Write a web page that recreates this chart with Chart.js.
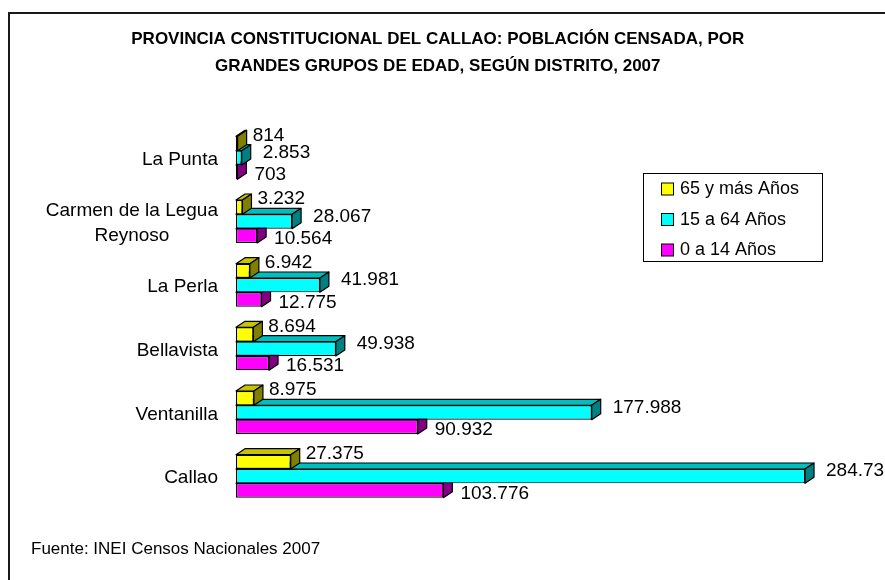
<!DOCTYPE html>
<html><head><meta charset="utf-8">
<script src="https://cdn.jsdelivr.net/npm/chart.js@4.4.1/dist/chart.umd.min.js"></script>
<style>html,body{margin:0;padding:0;background:#fff}#wrap{width:885px;height:580px;position:relative;overflow:hidden}</style>
</head><body><div id="wrap"><canvas id="c" width="885" height="580"></canvas></div>
<script>
// ---- data ----
const categories = ['La Punta', ['Carmen de la Legua', 'Reynoso'], 'La Perla', 'Bellavista', 'Ventanilla', 'Callao'];
const seriesNames = ['65 y más Años', '15 a 64 Años', '0 a 14 Años'];
const age65plus = [814, 3232, 6942, 8694, 8975, 27375];
const age15to64 = [2853, 28067, 41981, 49938, 177988, 284730];
const age0to14 = [703, 10564, 12775, 16531, 90932, 103776];
const titleLines = ['PROVINCIA CONSTITUCIONAL DEL CALLAO: POBLACIÓN CENSADA, POR', 'GRANDES GRUPOS DE EDAD, SEGÚN DISTRITO, 2007'];
const sourceText = 'Fuente: INEI Censos Nacionales 2007';

// ---- style ----
const FONT = '"Liberation Sans", Arial, sans-serif';
const frontColors = ['#FFFF00', '#00FFFF', '#FF00FF'];
const topColors = ['#C4C400', '#00BEBE', '#BE00BE'];
const sideColors = ['#808000', '#008080', '#800080'];
const DX = 9, DY = 6;
const labelOffX = [6, 12, 8];
const labelOffY = [-8, -5, 3];

function fmt(v) {
  return String(v).replace(/\B(?=(\d{3})+(?!\d))/g, '.');
}

function poly(ctx, pts, fill) {
  ctx.beginPath();
  ctx.moveTo(pts[0][0], pts[0][1]);
  for (let i = 1; i < pts.length; i++) ctx.lineTo(pts[i][0], pts[i][1]);
  ctx.closePath();
  ctx.fillStyle = fill;
  ctx.fill();
  ctx.stroke();
}

const threeD = {
  id: 'threeD',
  beforeDatasetsDraw(chart) {
    const ctx = chart.ctx;
    ctx.save();
    ctx.strokeStyle = '#000';
    ctx.lineWidth = 1.2;
    ctx.lineJoin = 'round';
    for (let di = chart.data.datasets.length - 1; di >= 0; di--) {
      const meta = chart.getDatasetMeta(di);
      meta.data.forEach(bar => {
        const p = bar.getProps(['x', 'y', 'base', 'height'], true);
        const t = p.y - p.height / 2, b = p.y + p.height / 2;
        const x0 = p.base, x1 = p.x;
        poly(ctx, [[x0, t], [x0 + DX, t - DY], [x1 + DX, t - DY], [x1, t]], topColors[di]);
        poly(ctx, [[x1, t], [x1 + DX, t - DY], [x1 + DX, b - DY], [x1, b]], sideColors[di]);
      });
    }
    ctx.restore();
  },
  afterDatasetsDraw(chart) {
    const ctx = chart.ctx;
    ctx.save();
    ctx.fillStyle = '#000';
    ctx.font = '19px ' + FONT;
    ctx.textAlign = 'left';
    ctx.textBaseline = 'middle';
    chart.data.datasets.forEach((ds, di) => {
      const meta = chart.getDatasetMeta(di);
      meta.data.forEach((bar, i) => {
        const p = bar.getProps(['x', 'y'], true);
        ctx.fillText(fmt(ds.data[i]), p.x + DX + labelOffX[di], p.y + labelOffY[di]);
      });
    });
    ctx.restore();
  },
  afterDraw(chart) {
    const ctx = chart.ctx;
    ctx.save();
    // outer frame
    ctx.strokeStyle = '#1a1a1a';
    ctx.lineWidth = 2;
    ctx.beginPath();
    ctx.moveTo(9, 600);
    ctx.lineTo(9, 13);
    ctx.lineTo(900, 13);
    ctx.stroke();

    // category labels
    const ys = chart.scales.y;
    ctx.fillStyle = '#000';
    ctx.font = '19px ' + FONT;
    ctx.textBaseline = 'middle';
    ctx.textAlign = 'center';
    const rightEdge = 218;
    const lh = 25;
    categories.forEach((lab, i) => {
      const lines = Array.isArray(lab) ? lab : [lab];
      const w = Math.max(...lines.map(l => ctx.measureText(l).width));
      const cx = rightEdge - w / 2;
      const yc = ys.getPixelForTick(i) + 2;
      const y0 = yc - (lines.length - 1) * lh / 2;
      lines.forEach((l, k) => ctx.fillText(l, cx, y0 + k * lh));
    });

    // legend
    ctx.lineWidth = 1;
    ctx.strokeStyle = '#000';
    ctx.fillStyle = '#fff';
    ctx.fillRect(643.5, 173.5, 179, 88);
    ctx.strokeRect(643.5, 173.5, 179, 88);
    ctx.font = '18px ' + FONT;
    ctx.textAlign = 'left';
    chart.data.datasets.forEach((ds, di) => {
      const y = 189.5 + di * 30.5;
      ctx.fillStyle = frontColors[di];
      ctx.fillRect(661.5, y - 6.5, 12, 12);
      ctx.strokeRect(661.5, y - 6.5, 12, 12);
      ctx.fillStyle = '#000';
      ctx.fillText(ds.label, 680, y);
    });

    // source
    ctx.font = '17px ' + FONT;
    ctx.fillText(sourceText, 31, 549);
    ctx.restore();
  }
};

const seriesValues = [age65plus, age15to64, age0to14];
new Chart(document.getElementById('c'), {
  type: 'bar',
  data: {
    labels: categories,
    datasets: seriesValues.map((vals, i) => ({
      label: seriesNames[i],
      data: vals,
      backgroundColor: frontColors[i],
      borderColor: '#000',
      borderWidth: 1.2,
      borderSkipped: false,
      categoryPercentage: 0.675,
      barPercentage: 1.0
    }))
  },
  options: {
    indexAxis: 'y',
    responsive: false,
    animation: false,
    devicePixelRatio: 1,
    layout: { padding: { left: 0, right: 9.5, top: 0, bottom: 72 } },
    scales: {
      x: { display: false, min: 0, max: 320000 },
      y: {
        display: true,
        ticks: { display: false },
        grid: { display: false },
        border: { display: false },
        afterFit(s) { s.width = 236; }
      }
    },
    plugins: {
      legend: { display: false },
      tooltip: { enabled: false },
      title: {
        display: true,
        text: titleLines,
        color: '#000',
        font: { family: FONT, size: 17, weight: 'bold', lineHeight: '27px' },
        padding: { top: 26, bottom: 46 }
      }
    }
  },
  plugins: [threeD]
});
</script></body></html>
